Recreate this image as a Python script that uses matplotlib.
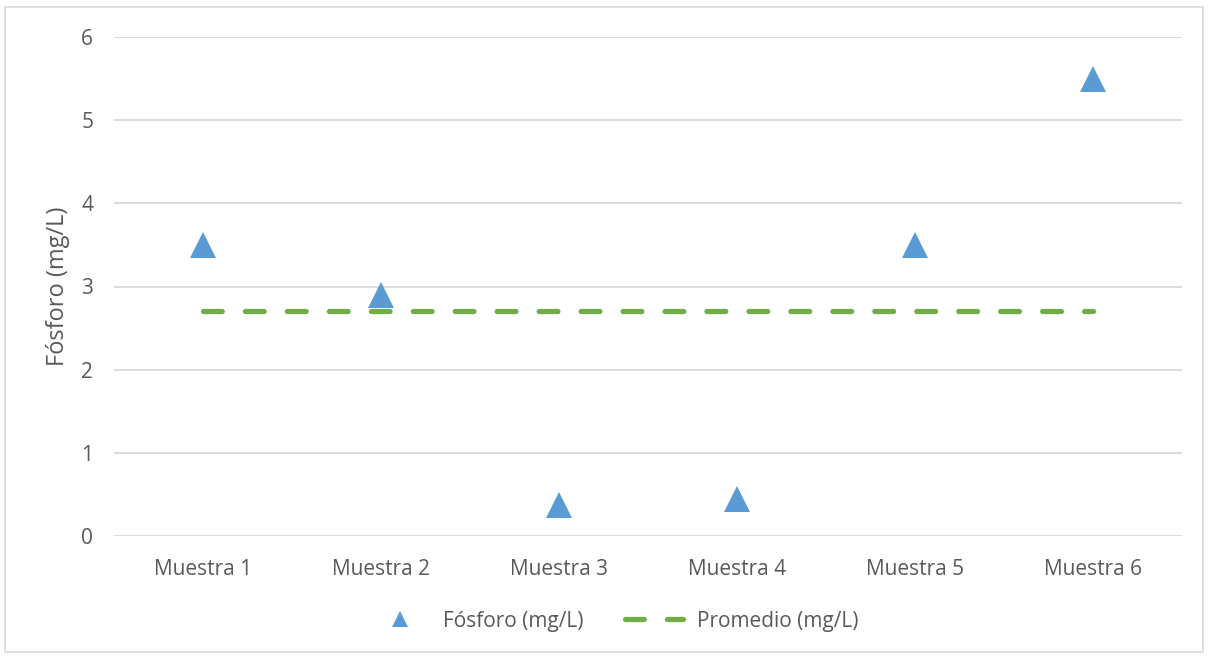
import matplotlib
matplotlib.use("Agg")
import matplotlib.pyplot as plt
from matplotlib.lines import Line2D
from matplotlib.patches import Rectangle

categories = ["Muestra 1", "Muestra 2", "Muestra 3", "Muestra 4", "Muestra 5", "Muestra 6"]
fosforo = [3.5, 2.9, 0.37, 0.44, 3.5, 5.5]
promedio = [2.7, 2.7, 2.7, 2.7, 2.7, 2.7]
y_ticks = [0, 1, 2, 3, 4, 5, 6]

plt.rcParams['font.family'] = ['Open Sans', 'DejaVu Sans']
text_color = "#595959"
blue = "#5B9BD5"
green = "#70AD47"
grid_color = "#D9D9D9"
dash_style = (0, (3.55, 4.4))

W, H = 1209, 658
fig = plt.figure(figsize=(W / 100, H / 100), dpi=100)

# outer chart frame
fig.patches.append(Rectangle((5 / W, 6 / H), (W - 11) / W, (H - 13) / H,
                             transform=fig.transFigure, fill=False,
                             edgecolor="#D9D9D9", linewidth=1.2))

left, right, top, bottom = 114, 1182, 37, 536
ax = fig.add_axes([left / W, 1 - bottom / H, (right - left) / W, (bottom - top) / H])

x = list(range(len(categories)))
ax.plot(x, promedio, color=green, linewidth=3.8, linestyle=dash_style,
        dash_capstyle="round", zorder=2)
ax.plot(x, fosforo, linestyle="none", marker="^", markersize=18.5,
        color=blue, markeredgewidth=0, zorder=3)

ax.set_xlim(-0.5, len(categories) - 0.5)
ax.set_ylim(0, 6)
ax.set_yticks(y_ticks)
ax.set_xticks(x)
ax.set_xticklabels(categories)
ax.yaxis.grid(True, color=grid_color, linewidth=1.3)
ax.set_axisbelow(True)
for s in ax.spines.values():
    s.set_visible(False)
ax.tick_params(axis="both", length=0, labelsize=15, colors=text_color)
ax.tick_params(axis="x", pad=16.5)
ax.tick_params(axis="y", pad=15)
ax.set_ylabel("Fósforo (mg/L)", fontsize=17, color=text_color, labelpad=8)

handles = [
    Line2D([], [], linestyle="none", marker="^", markersize=11.5, color=blue,
           markeredgewidth=0),
    Line2D([], [], color=green, linewidth=3.8, linestyle=dash_style,
           dash_capstyle="round"),
]
leg = fig.legend(handles, ["Fósforo (mg/L)", "Promedio (mg/L)"],
                 loc="center", bbox_to_anchor=(615 / W, 1 - 621 / H),
                 ncol=2, frameon=False, fontsize=15, handlelength=2.75,
                 columnspacing=2.0, handletextpad=0.7)
for t in leg.get_texts():
    t.set_color(text_color)

fig.savefig("out.png", dpi=100, facecolor="white")
